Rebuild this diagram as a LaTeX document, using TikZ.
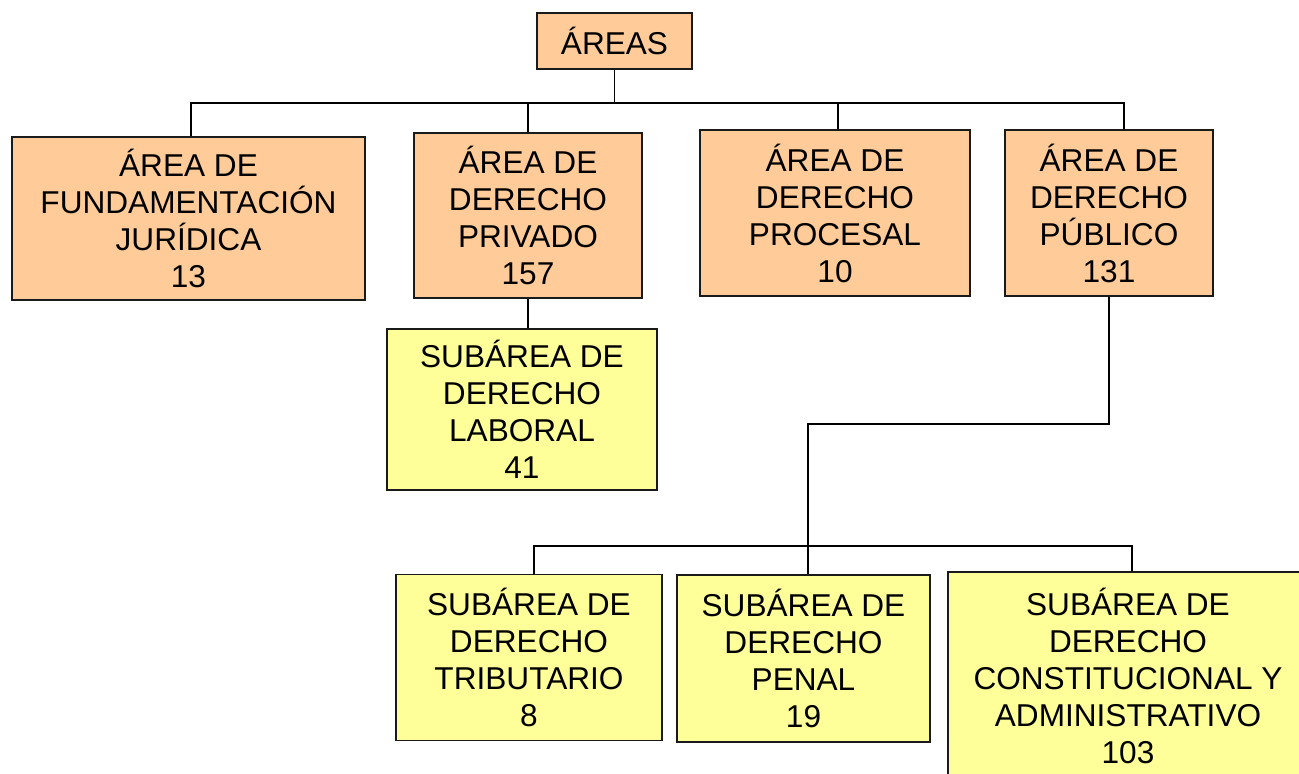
\documentclass[tikz,border=0pt]{standalone}
\usepackage{fontspec}
\setmainfont{Liberation Sans}
\usetikzlibrary{calc}
\definecolor{areafill}{HTML}{FFCC99}
\definecolor{subfill}{HTML}{FFFF99}
\definecolor{edgecol}{HTML}{1A1A1A}
\begin{document}
\begin{tikzpicture}[x=1pt,y=-1pt,
  box/.style={draw=edgecol,line width=1.8pt,align=center,inner sep=0pt,
    font=\fontsize{31.6}{37}\selectfont},
  areabox/.style={box,fill=areafill},
  subbox/.style={box,fill=subfill},
  link/.style={draw=black,line width=1.6pt}]
\useasboundingbox (0,0) rectangle (1299,774);
\clip (0,0) rectangle (1299,774);
\node[areabox,minimum width=155pt,minimum height=56pt] (areas) at (614.5,41) {ÁREAS};
\node[areabox,minimum width=353pt,minimum height=163pt] (fund) at (188.5,218.5) {ÁREA DE\\FUNDAMENTACIÓN\\JURÍDICA\\13};
\node[areabox,minimum width=228pt,minimum height=165pt] (priv) at (528,215.5) {ÁREA DE\\DERECHO\\PRIVADO\\157};
\node[areabox,minimum width=270pt,minimum height=166pt] (proc) at (835,213) {ÁREA DE\\DERECHO\\PROCESAL\\10};
\node[areabox,minimum width=208pt,minimum height=166pt] (pub) at (1109,213) {ÁREA DE\\DERECHO\\PÚBLICO\\131};
\node[subbox,minimum width=270pt,minimum height=161pt] (lab) at (522,409.5) {SUBÁREA DE\\DERECHO\\LABORAL\\41};
\node[subbox,minimum width=266pt,minimum height=166pt] (trib) at (529,657.5) {SUBÁREA DE\\DERECHO\\TRIBUTARIO\\8};
\node[subbox,minimum width=253pt,minimum height=167pt] (penal) at (803.5,658.5) {SUBÁREA DE\\DERECHO\\PENAL\\19};
\node[subbox,minimum width=360pt,minimum height=208pt] (const) at (1128,676) {SUBÁREA DE\\DERECHO\\CONSTITUCIONAL Y\\ADMINISTRATIVO\\103};
% connectors
\coordinate (bus) at (0,103);
\coordinate (fundtop) at ($(fund.north)+(2.5,0)$);
\coordinate (proctop) at ($(proc.north)+(3,0)$);
\coordinate (pubtop) at ($(pub.north)+(15,0)$);
\draw[link] (areas.south) -- (areas.south |- bus);
\draw[link] (fundtop) -- (fundtop |- bus) -- (pubtop |- bus) -- (pubtop);
\draw[link] (priv.north) -- (priv.north |- bus);
\draw[link] (proctop) -- (proctop |- bus);
\draw[link] (priv.south) -- (priv.south |- lab.north);
\coordinate (join) at (808,424);
\coordinate (bus2) at (0,546);
\coordinate (tribtop) at ($(trib.north)+(5,0)$);
\coordinate (penaltop) at ($(penal.north)+(4.5,0)$);
\coordinate (consttop) at ($(const.north)+(4,0)$);
\draw[link] (pub.south) |- (join) -- (penaltop);
\draw[link] (tribtop) -- (tribtop |- bus2) -- (consttop |- bus2) -- (consttop);
\end{tikzpicture}
\end{document}
